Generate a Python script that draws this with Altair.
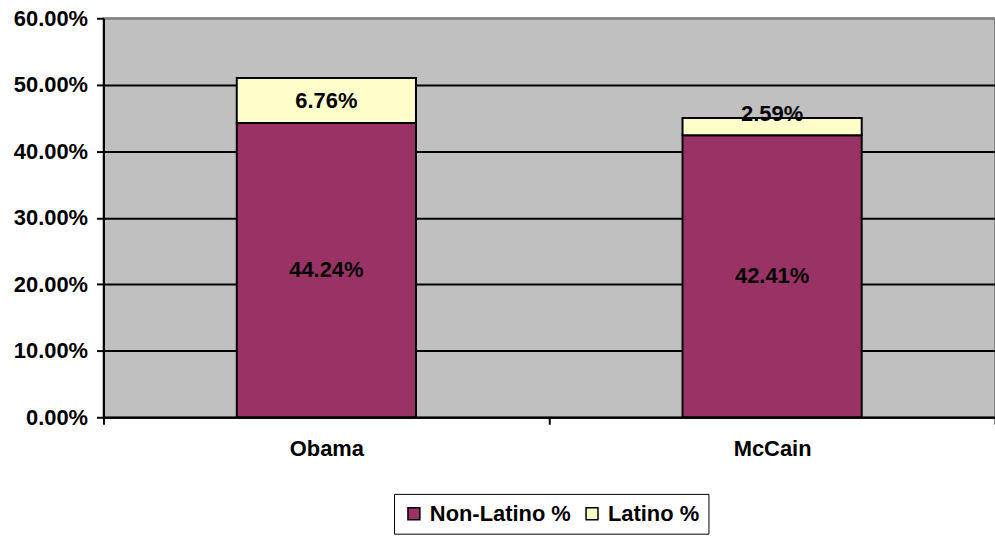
import altair as alt
import pandas as pd

candidates = ["Obama", "McCain"]
non_latino = [0.4424, 0.4241]
latino = [0.0676, 0.0259]
series = ["Non-Latino %", "Latino %"]
series_colors = ["#993366", "#FFFFCC"]
y_ticks = [0.0, 0.1, 0.2, 0.3, 0.4, 0.5, 0.6]

rows = []
for i, c in enumerate(candidates):
    rows.append({"candidate": c, "series": series[0], "value": non_latino[i], "ord": 0})
    rows.append({"candidate": c, "series": series[1], "value": latino[i], "ord": 1})
df = pd.DataFrame(rows)

FONT = "Liberation Sans"
FS = 22

x = alt.X("candidate:N", sort=candidates, title=None,
          scale=alt.Scale(paddingInner=0, paddingOuter=0),
          axis=alt.Axis(labelAngle=0, labelFont=FONT, labelFontSize=FS, labelFontWeight="bold",
                        labelColor="black", tickColor="black", tickSize=7, tickBand="extent",
                        labelPadding=14, domainColor="black", domainWidth=2, tickWidth=2, grid=False))
y = alt.Y("value:Q", stack="zero", title=None,
          scale=alt.Scale(domain=[0, 0.6], nice=False),
          axis=alt.Axis(values=y_ticks, format=".2%", labelFont=FONT, labelFontSize=FS,
                        labelFontWeight="bold", labelColor="black", tickColor="black", tickSize=7,
                        tickWidth=2, labelPadding=9, domainColor="black", domainWidth=2,
                        grid=True, gridWidth=2,
                        gridColor=alt.condition("datum.value >= 0.6", alt.value("#808080"), alt.value("black"))))

bars = alt.Chart(df).mark_bar(width={"band": 0.402}, stroke="black", strokeWidth=2).encode(
    x=x, y=y,
    color=alt.Color("series:N", sort=series,
                    scale=alt.Scale(domain=series, range=series_colors),
                    legend=alt.Legend(title=None, orient="none", legendX=292, legendY=478,
                                      direction="horizontal", labelFont=FONT, labelFontSize=FS,
                                      labelFontWeight="bold", labelColor="black",
                                      symbolType="square", symbolSize=144, symbolStrokeColor="black",
                                      symbolStrokeWidth=1.5, strokeColor="black",
                                      padding=9, columnPadding=10, labelOffset=5, fillColor="white")),
    order=alt.Order("ord:Q"),
)

labels = alt.Chart(df).mark_text(font=FONT, fontSize=FS, fontWeight="bold", color="black").encode(
    x=alt.X("candidate:N", sort=candidates),
    y=alt.Y("mid:Q"),
    text=alt.Text("value:Q", format=".2%"),
).transform_stack(
    stack="value", groupby=["candidate"], sort=[alt.SortField("ord")], as_=["v0", "v1"]
).transform_calculate(
    mid="(datum.v1 - datum.v0) < 0.03 ? datum.v1 + 0.006 : (datum.v0 + datum.v1) / 2"
)

chart = alt.layer(bars, labels).properties(
    width=896, height=401,
    padding={"left": 104, "top": 17, "right": 0, "bottom": 124},
    autosize=alt.AutoSizeParams(type="none"),
    background="white",
).configure_view(fill="#C0C0C0", stroke="#808080", strokeWidth=2)

chart.save("out.html", embed_options={"renderer": "svg", "actions": False})
